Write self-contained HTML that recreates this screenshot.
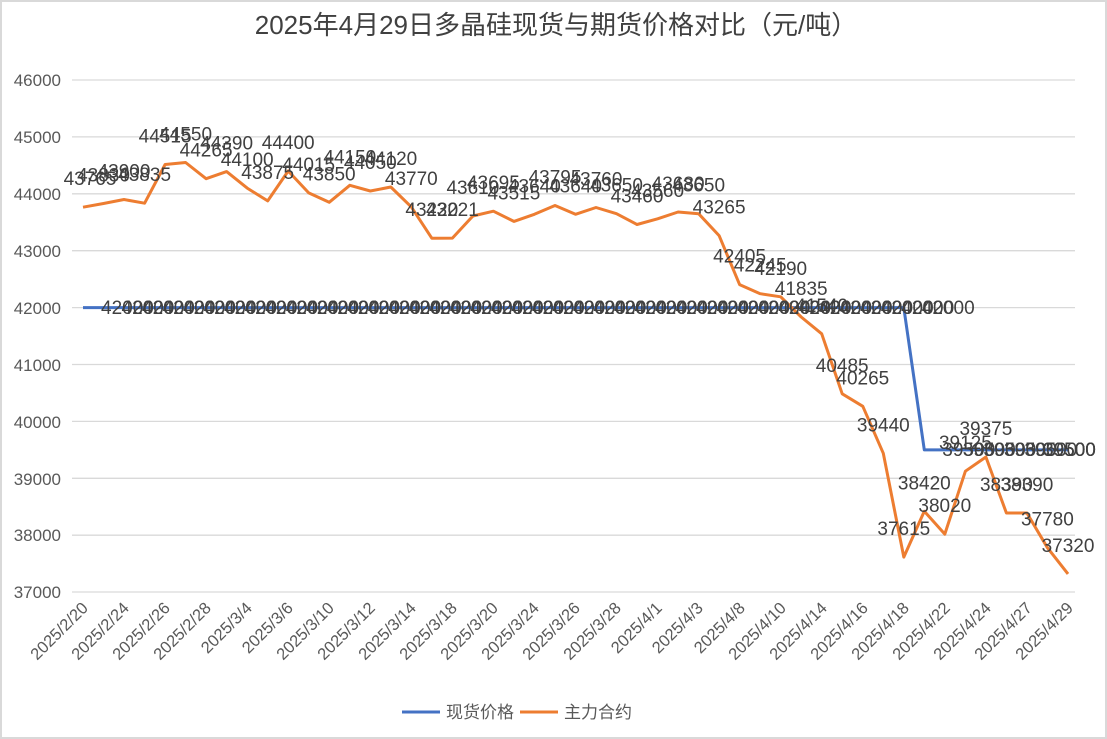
<!DOCTYPE html>
<html><head><meta charset="utf-8"><style>
html,body{margin:0;padding:0;background:#fff;}
svg{display:block;font-family:"Liberation Sans","Noto Sans CJK SC",sans-serif;}
</style></head><body>
<svg width="1107" height="739" viewBox="0 0 1107 739" xmlns="http://www.w3.org/2000/svg">
<rect x="1" y="1" width="1105" height="737" fill="#fff" stroke="#d9d9d9" stroke-width="2"/>
<text x="556" y="34" text-anchor="middle" font-size="26" fill="#404040">2025年4月29日多晶硅现货与期货价格对比（元/吨）</text>
<g stroke="#d9d9d9" stroke-width="1.3">
<line x1="72" y1="80" x2="1075" y2="80"/><line x1="72" y1="136.9" x2="1075" y2="136.9"/><line x1="72" y1="193.8" x2="1075" y2="193.8"/><line x1="72" y1="250.7" x2="1075" y2="250.7"/><line x1="72" y1="307.6" x2="1075" y2="307.6"/><line x1="72" y1="364.5" x2="1075" y2="364.5"/><line x1="72" y1="421.4" x2="1075" y2="421.4"/><line x1="72" y1="478.3" x2="1075" y2="478.3"/><line x1="72" y1="535.2" x2="1075" y2="535.2"/><line x1="72" y1="592" x2="1075" y2="592"/>
</g>
<g font-size="17" fill="#595959" text-anchor="end">
<text x="61" y="86">46000</text><text x="61" y="143">45000</text><text x="61" y="200">44000</text><text x="61" y="257">43000</text><text x="61" y="314">42000</text><text x="61" y="371">41000</text><text x="61" y="428">40000</text><text x="61" y="485">39000</text><text x="61" y="541">38000</text><text x="61" y="598">37000</text>
</g>
<g font-size="16.5" fill="#595959" text-anchor="end">
<text transform="translate(89,609) rotate(-45)">2025/2/20</text>
<text transform="translate(130,609) rotate(-45)">2025/2/24</text>
<text transform="translate(171,609) rotate(-45)">2025/2/26</text>
<text transform="translate(212,609) rotate(-45)">2025/2/28</text>
<text transform="translate(253,609) rotate(-45)">2025/3/4</text>
<text transform="translate(294,609) rotate(-45)">2025/3/6</text>
<text transform="translate(335,609) rotate(-45)">2025/3/10</text>
<text transform="translate(376,609) rotate(-45)">2025/3/12</text>
<text transform="translate(417,609) rotate(-45)">2025/3/14</text>
<text transform="translate(458,609) rotate(-45)">2025/3/18</text>
<text transform="translate(499,609) rotate(-45)">2025/3/20</text>
<text transform="translate(540,609) rotate(-45)">2025/3/24</text>
<text transform="translate(581,609) rotate(-45)">2025/3/26</text>
<text transform="translate(622,609) rotate(-45)">2025/3/28</text>
<text transform="translate(663,609) rotate(-45)">2025/4/1</text>
<text transform="translate(704,609) rotate(-45)">2025/4/3</text>
<text transform="translate(746,609) rotate(-45)">2025/4/8</text>
<text transform="translate(787,609) rotate(-45)">2025/4/10</text>
<text transform="translate(828,609) rotate(-45)">2025/4/14</text>
<text transform="translate(869,609) rotate(-45)">2025/4/16</text>
<text transform="translate(910,609) rotate(-45)">2025/4/18</text>
<text transform="translate(951,609) rotate(-45)">2025/4/22</text>
<text transform="translate(992,609) rotate(-45)">2025/4/24</text>
<text transform="translate(1033,609) rotate(-45)">2025/4/27</text>
<text transform="translate(1074,609) rotate(-45)">2025/4/29</text>
</g>
<polyline fill="none" stroke="#4472C4" stroke-width="3" stroke-linejoin="round" points="83,307.6 903.8,307.6 924.3,449.9 1068,449.9"/>
<polyline fill="none" stroke="#ED7D31" stroke-width="3" stroke-linejoin="round" points="83,207.2 103.5,203.5 124,199.5 144.6,203.2 165.1,164.5 185.6,162.5 206.1,178.7 226.6,171.6 247.2,188.1 267.7,200.9 288.2,171 308.7,192.9 329.2,202.3 349.8,185.3 370.3,191 390.8,187 411.3,206.9 431.8,238.2 452.4,238.1 472.9,216 493.4,211.2 513.9,221.4 534.4,214.3 555,205.5 575.5,214.3 596,207.5 616.5,213.7 637,224.5 657.6,218.8 678.1,212 698.6,213.7 719.1,235.6 739.6,284.6 760.2,293.7 780.7,296.8 801.2,317 821.7,333.8 842.2,393.8 862.8,406.3 883.3,453.3 903.8,557.1 924.3,511.3 944.8,534.1 965.4,471.2 985.9,457 1006.4,513 1026.9,513 1047.4,547.7 1068,573.9"/>
<g font-size="19" fill="#404040">
<text x="101" y="314">42000</text><text x="121.5" y="314">42000</text><text x="142" y="314">42000</text><text x="162.6" y="314">42000</text><text x="183.1" y="314">42000</text><text x="203.6" y="314">42000</text><text x="224.1" y="314">42000</text><text x="244.6" y="314">42000</text><text x="265.2" y="314">42000</text><text x="285.7" y="314">42000</text><text x="306.2" y="314">42000</text><text x="326.7" y="314">42000</text><text x="347.2" y="314">42000</text><text x="367.8" y="314">42000</text><text x="388.3" y="314">42000</text><text x="408.8" y="314">42000</text><text x="429.3" y="314">42000</text><text x="449.8" y="314">42000</text><text x="470.4" y="314">42000</text><text x="490.9" y="314">42000</text><text x="511.4" y="314">42000</text><text x="531.9" y="314">42000</text><text x="552.4" y="314">42000</text><text x="573" y="314">42000</text><text x="593.5" y="314">42000</text><text x="614" y="314">42000</text><text x="634.5" y="314">42000</text><text x="655" y="314">42000</text><text x="675.6" y="314">42000</text><text x="696.1" y="314">42000</text><text x="716.6" y="314">42000</text><text x="737.1" y="314">42000</text><text x="757.6" y="314">42000</text><text x="778.2" y="314">42000</text><text x="798.7" y="314">42000</text><text x="819.2" y="314">42000</text><text x="839.7" y="314">42000</text><text x="860.2" y="314">42000</text><text x="880.8" y="314">42000</text><text x="901.3" y="314">42000</text><text x="921.8" y="314">42000</text>
<text x="942.3" y="456">39500</text><text x="962.8" y="456">39500</text><text x="983.4" y="456">39500</text><text x="1003.9" y="456">39500</text><text x="1024.4" y="456">39500</text><text x="1043" y="456">39500</text><text x="1043" y="456">39500</text><text x="1043" y="456">39500</text>
</g>
<g font-size="19" fill="#404040" text-anchor="middle">
<text x="90" y="185">43765</text><text x="103.5" y="181.5">43830</text><text x="124" y="177.5">43900</text><text x="144.6" y="181.2">43835</text><text x="165.1" y="142.5">44515</text><text x="185.6" y="140.5">44550</text><text x="206.1" y="156.7">44265</text><text x="226.6" y="149.6">44390</text><text x="247.2" y="166.1">44100</text><text x="267.7" y="178.9">43875</text><text x="288.2" y="149">44400</text><text x="308.7" y="170.9">44015</text><text x="329.2" y="180.3">43850</text><text x="349.8" y="163.3">44150</text><text x="370.3" y="169">44050</text><text x="390.8" y="165">44120</text><text x="411.3" y="184.9">43770</text><text x="431.8" y="216.2">43220</text><text x="452.4" y="216.1">43221</text><text x="472.9" y="194">43610</text><text x="493.4" y="189.2">43695</text><text x="513.9" y="199.4">43515</text><text x="534.4" y="192.3">43640</text><text x="555" y="183.5">43795</text><text x="575.5" y="192.3">43640</text><text x="596" y="185.5">43760</text><text x="616.5" y="191.7">43650</text><text x="637" y="202.5">43460</text><text x="657.6" y="196.8">43560</text><text x="678.1" y="190">43680</text><text x="698.6" y="191.7">43650</text><text x="719.1" y="213.6">43265</text><text x="739.6" y="262.6">42405</text><text x="760.2" y="271.7">42245</text><text x="780.7" y="274.8">42190</text><text x="801.2" y="295">41835</text><text x="821.7" y="311.8">41540</text><text x="842.2" y="371.8">40485</text><text x="862.8" y="384.3">40265</text><text x="883.3" y="431.3">39440</text><text x="903.8" y="535.1">37615</text><text x="924.3" y="489.3">38420</text><text x="944.8" y="512.1">38020</text><text x="965.4" y="449.2">39125</text><text x="985.9" y="435">39375</text><text x="1006.4" y="491">38390</text><text x="1026.9" y="491">38390</text><text x="1047.4" y="525.7">37780</text><text x="1068" y="551.9">37320</text>
</g>
<line x1="402" y1="712" x2="440" y2="712" stroke="#4472C4" stroke-width="3"/>
<text x="446" y="718" font-size="17" fill="#595959">现货价格</text>
<line x1="520" y1="712" x2="558" y2="712" stroke="#ED7D31" stroke-width="3"/>
<text x="564" y="718" font-size="17" fill="#595959">主力合约</text>
</svg>
</body></html>
